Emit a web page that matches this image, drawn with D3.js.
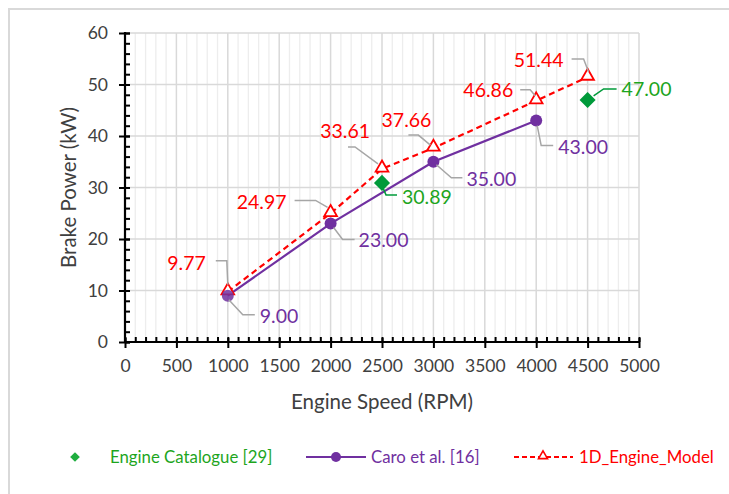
<!DOCTYPE html>
<html>
<head>
<meta charset="utf-8">
<script src="https://cdn.jsdelivr.net/npm/d3@7"></script>
<style>
  html, body { margin: 0; padding: 0; background: #fff; }
  svg { display: block; font-family: Lato, "Open Sans", sans-serif; }
</style>
</head>
<body>
<svg id="chart" width="729" height="494"></svg>
<script>
// ===== DATA =====
const catalogueRpm = [2500, 4500];
const catalogueKw = [30.89, 47.00];

const caroRpm = [1000, 2000, 3000, 4000];
const caroKw = [9.00, 23.00, 35.00, 43.00];

const modelRpm = [1000, 2000, 2500, 3000, 4000, 4500];
const modelKw = [9.77, 24.97, 33.61, 37.66, 46.86, 51.44];

const xTicks = [0, 500, 1000, 1500, 2000, 2500, 3000, 3500, 4000, 4500, 5000];
const yTicks = [0, 10, 20, 30, 40, 50, 60];

const seriesNames = ["Engine Catalogue [29]", "Caro et al. [16]", "1D_Engine_Model"];

// ===== LABEL LAYOUT (pixel offsets from each marker) =====
// t: text anchor offset, a: text-anchor, l: leader line points
const catalogueLabels = [
  { t: [20, 14], a: "start", l: [[1, 5], [4, 12], [15, 12]] },
  { t: [34, -11], a: "start", l: [[6, -4], [16, -11], [29, -11]] }
];
const caroLabels = [
  { t: [32, 21], a: "start", l: [[1, 4], [15, 19], [27, 19]] },
  { t: [28, 17], a: "start", l: [[3, 4], [12, 16], [24, 16]] },
  { t: [33, 17], a: "start", l: [[3, 3], [18, 16], [29, 16]] },
  { t: [22, 27], a: "start", l: [[1, 5], [5, 25], [17, 25]] }
];
const modelLabels = [
  { t: [-22, -29], a: "end", l: [[-12, -31], [-1, -31], [0, -7]] },
  { t: [-44, -11], a: "end", l: [[-36, -13], [-15, -13], [-3, -6]] },
  { t: [-12, -38], a: "end", l: [[-34, -22], [-27, -22], [-4, -5]] },
  { t: [-2, -28], a: "end", l: [[-25, -13], [-15, -13], [-3, -3]] },
  { t: [-23, -10], a: "end", l: [[-16, -11], [-6, -11], [-1, -5]] },
  { t: [-24, -17], a: "end", l: [[-16, -18], [-4, -18], [1, -5]] }
];

// ===== COLOURS =====
const green = "#009a3a";
const greenText = "#1da51d";
const purple = "#7030a0";
const red = "#ff0000";
const grey = "#a6a6a6";

const svg = d3.select("#chart");

// outer border
svg.append("path")
  .attr("d", "M9,494 V9 H729")
  .attr("fill", "none")
  .attr("stroke", "#d9d9d9")
  .attr("stroke-width", 2);

const x = d3.scaleLinear().domain([0, 5000]).range([125, 639]);
const y = d3.scaleLinear().domain([0, 60]).range([342, 33]);

// ===== GRID =====
const grid = svg.append("g");
grid.selectAll(".vminor")
  .data(d3.range(100, 5000, 100).filter(v => v % 500 !== 0))
  .enter().append("line")
  .attr("x1", d => x(d)).attr("x2", d => x(d))
  .attr("y1", y(0)).attr("y2", y(60))
  .attr("stroke", "#ededed").attr("stroke-width", 1.3);
grid.selectAll(".vmajor")
  .data(xTicks.slice(1))
  .enter().append("line")
  .attr("x1", d => x(d)).attr("x2", d => x(d))
  .attr("y1", y(0)).attr("y2", y(60))
  .attr("stroke", "#d9d9d9").attr("stroke-width", 1.5);
grid.selectAll(".hmajor")
  .data(yTicks.slice(1))
  .enter().append("line")
  .attr("x1", x(0)).attr("x2", x(5000))
  .attr("y1", d => y(d)).attr("y2", d => y(d))
  .attr("stroke", "#d9d9d9").attr("stroke-width", 1.5);

// ===== AXES =====
const axisG = svg.append("g");
// minor ticks (inside)
axisG.append("g")
  .attr("transform", `translate(0,${y(0)})`)
  .call(d3.axisBottom(x).tickValues(d3.range(0, 5001, 100)).tickSizeInner(-5).tickSizeOuter(0).tickFormat(""))
  .call(g => g.select(".domain").remove())
  .call(g => g.selectAll("line").attr("stroke", "#000").attr("stroke-width", 2));
axisG.append("g")
  .attr("transform", `translate(${x(0)},0)`)
  .call(d3.axisLeft(y).tickValues(d3.range(0, 61, 2)).tickSizeInner(-5).tickSizeOuter(0).tickFormat(""))
  .call(g => g.select(".domain").remove())
  .call(g => g.selectAll("line").attr("stroke", "#000").attr("stroke-width", 2));

// major ticks crossing
const xAxis = axisG.append("g")
  .attr("transform", `translate(0,${y(0)})`)
  .call(d3.axisBottom(x).tickValues(xTicks).tickSize(6).tickPadding(12).tickFormat(d3.format("d")));
xAxis.selectAll(".tick line").attr("y1", -4);
const yAxis = axisG.append("g")
  .attr("transform", `translate(${x(0)},0)`)
  .call(d3.axisLeft(y).tickValues(yTicks).tickSize(6).tickPadding(11));
yAxis.selectAll(".tick line").attr("x1", 5);

[xAxis, yAxis].forEach(g => {
  g.select(".domain").attr("stroke", "#000").attr("stroke-width", 2.2);
  g.selectAll(".tick line").attr("stroke", "#000").attr("stroke-width", 2);
  g.selectAll(".tick text")
    .attr("fill", "#404040")
    .style("font-size", "17.5px")
    .style("font-family", "Lato, sans-serif");
});
xAxis.select(".domain").attr("d", `M${x(0) - 1},0H${x(5000) + 1}`);
yAxis.select(".domain").attr("d", `M0,${y(0) + 1}V${y(60) - 1}`);

// axis titles
svg.append("text")
  .attr("x", (x(0) + x(5000)) / 2).attr("y", 409)
  .attr("text-anchor", "middle")
  .attr("fill", "#404040")
  .style("font-size", "20.5px")
  .text("Engine Speed (RPM)");
svg.append("text")
  .attr("transform", `translate(76,${(y(0) + y(60)) / 2}) rotate(-90)`)
  .attr("text-anchor", "middle")
  .attr("fill", "#404040")
  .style("font-size", "20.5px")
  .text("Brake Power (kW)");

// ===== SERIES =====
const caro = caroRpm.map((r, i) => ({ r, v: caroKw[i] }));
const model = modelRpm.map((r, i) => ({ r, v: modelKw[i] }));
const cat = catalogueRpm.map((r, i) => ({ r, v: catalogueKw[i] }));

const line = d3.line().x(d => x(d.r)).y(d => y(d.v));

svg.append("path")
  .datum(caro)
  .attr("d", line)
  .attr("fill", "none")
  .attr("stroke", purple)
  .attr("stroke-width", 2.2);

svg.append("path")
  .datum(model)
  .attr("d", line)
  .attr("fill", "none")
  .attr("stroke", red)
  .attr("stroke-width", 2.2)
  .attr("stroke-dasharray", "6,4");

const tri = d3.symbol().type(d3.symbolTriangle).size(70);
svg.selectAll(".modelPt")
  .data(model)
  .enter().append("path")
  .attr("d", tri)
  .attr("transform", d => `translate(${x(d.r)},${y(d.v) - 1})`)
  .attr("fill", "#fff")
  .attr("stroke", red)
  .attr("stroke-width", 1.8);

svg.selectAll(".caroPt")
  .data(caro)
  .enter().append("circle")
  .attr("cx", d => x(d.r)).attr("cy", d => y(d.v))
  .attr("r", 6)
  .attr("fill", purple)
  .attr("fill-opacity", (d, i) => i === 0 ? 0.85 : 1);

const diamond = d3.symbol().type(d3.symbolDiamond2).size(165);
svg.selectAll(".catPt")
  .data(cat)
  .enter().append("path")
  .attr("d", diamond)
  .attr("transform", d => `translate(${x(d.r)},${y(d.v)})`)
  .attr("fill", green);

// ===== DATA LABELS =====
function drawLabels(data, layout, textColor, leaderColor) {
  const g = svg.append("g");
  data.forEach((d, i) => {
    const px = x(d.r), py = y(d.v);
    const L = layout[i];
    g.append("path")
      .attr("d", d3.line()(L.l.map(p => [px + p[0], py + p[1]])))
      .attr("fill", "none")
      .attr("stroke", leaderColor)
      .attr("stroke-width", 1.5);
    g.append("text")
      .attr("x", px + L.t[0]).attr("y", py + L.t[1])
      .attr("dy", "0.35em")
      .attr("text-anchor", L.a)
      .attr("fill", textColor)
      .style("font-size", "19.5px")
      .text(d.v.toFixed(2));
  });
}
drawLabels(model, modelLabels, red, grey);
drawLabels(caro, caroLabels, purple, grey);
drawLabels(cat, catalogueLabels, greenText, green);

// ===== LEGEND =====
const legY = 457;
const leg = svg.append("g").style("font-size", "16.8px");

leg.append("path")
  .attr("d", d3.symbol().type(d3.symbolDiamond2).size(60))
  .attr("transform", `translate(75,${legY})`)
  .attr("fill", "#1fae3f");
leg.append("text")
  .attr("x", 110).attr("y", legY).attr("dy", "0.35em")
  .attr("fill", greenText).text(seriesNames[0]);

leg.append("line")
  .attr("x1", 306).attr("x2", 366).attr("y1", legY).attr("y2", legY)
  .attr("stroke", purple).attr("stroke-width", 2);
leg.append("circle")
  .attr("cx", 336).attr("cy", legY).attr("r", 5).attr("fill", purple);
leg.append("text")
  .attr("x", 371).attr("y", legY).attr("dy", "0.35em")
  .attr("fill", purple).text(seriesNames[1]);

leg.append("line")
  .attr("x1", 514).attr("x2", 573).attr("y1", legY).attr("y2", legY)
  .attr("stroke", red).attr("stroke-width", 2).attr("stroke-dasharray", "5,3");
leg.append("path")
  .attr("d", d3.symbol().type(d3.symbolTriangle).size(35))
  .attr("transform", `translate(543,${legY - 1})`)
  .attr("fill", "#fff").attr("stroke", red).attr("stroke-width", 1.6);
leg.append("text")
  .attr("x", 579).attr("y", legY).attr("dy", "0.35em")
  .attr("fill", red).text(seriesNames[2]);
</script>
</body>
</html>
